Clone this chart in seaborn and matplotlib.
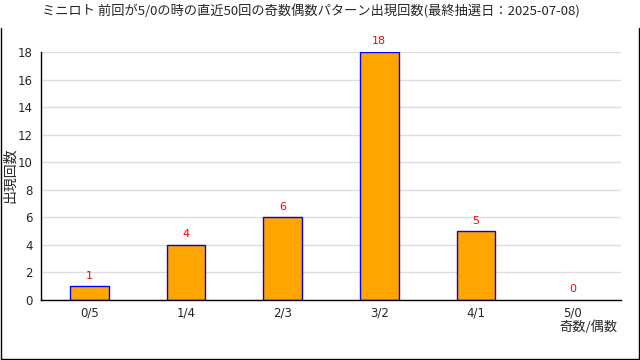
import matplotlib
matplotlib.use("Agg")
import matplotlib.pyplot as plt
from matplotlib.lines import Line2D
from matplotlib.ticker import FixedLocator
import seaborn as sns
import pandas as pd

patterns = ["0/5", "1/4", "2/3", "3/2", "4/1", "5/0"]
counts = [1, 4, 6, 18, 5, 0]

title = "ミニロト 前回が5/0の時の直近50回の奇数偶数パターン出現回数(最終抽選日：2025-07-08)"
xlabel = "奇数/偶数"
ylabel = "出現回数"

sns.set_theme(style="white")
plt.rcParams["font.family"] = ["Noto Sans CJK JP", "DejaVu Sans"]

W, H = 640, 360
fig = plt.figure(figsize=(W / 100, H / 100), dpi=100)
fig.patch.set_facecolor("white")
ax = fig.add_axes([41 / W, 1 - 300 / H, 580 / W, 248 / H])

df = pd.DataFrame({"pattern": patterns, "count": counts})
sns.barplot(data=df, x="pattern", y="count", order=patterns, color="#FFA500",
            saturation=1, width=0.4, edgecolor="#0000FF", linewidth=1.0, ax=ax)

for p, v in zip(ax.patches, counts):
    if v == 0:
        p.set_linewidth(0)
    ax.annotate(f"{v}", (p.get_x() + p.get_width() / 2, v),
                xytext=(0, 4), textcoords="offset points",
                ha="center", va="bottom", color="red", fontsize=8,
                family="DejaVu Sans")

ax.set_xlim(-0.5, len(patterns) - 0.5)
ax.set_ylim(0, 18)
ax.set_yticks(range(0, 19, 2))
ax.yaxis.grid(True, color="#DDDDDD", linewidth=1)
ax.set_axisbelow(True)

# Category labels without ticks; tick marks sit on category boundaries
ax.tick_params(axis="x", which="major", length=0, pad=4.5, labelsize=8.5)
ax.xaxis.set_minor_locator(FixedLocator([i + 0.5 for i in range(-1, len(patterns))]))
ax.tick_params(axis="x", which="minor", direction="in", length=4, width=1, color="black")
ax.tick_params(axis="y", direction="in", length=4, width=1, color="black", labelsize=8.5, pad=6)
for lab in ax.get_xticklabels() + ax.get_yticklabels():
    lab.set_family("DejaVu Sans")

for s in ("top", "right"):
    ax.spines[s].set_visible(False)
for s in ("left", "bottom"):
    ax.spines[s].set_color("black")
    ax.spines[s].set_linewidth(1)

ax.set_xlabel("")
ax.set_ylabel("")
fig.text(588 / W, 1 - 327 / H, xlabel, ha="center", va="center", fontsize=9.5)
fig.text(10 / W, 1 - 175 / H, ylabel, ha="center", va="center", rotation=90, fontsize=10)
fig.text(311 / W, 1 - 12 / H, title, ha="center", va="center", fontsize=9.5)

# Frame around the chart area
top = 1 - 28 / H
bottom = 1 - 358.5 / H
left = 0.5 / W
right = 638.5 / W
for xs, ys in (([left, left], [bottom, top]), ([right, right], [bottom, top]),
               ([left, right], [bottom, bottom])):
    fig.add_artist(Line2D(xs, ys, color="black", linewidth=1.0, transform=fig.transFigure))

fig.savefig("out.png", dpi=100)
